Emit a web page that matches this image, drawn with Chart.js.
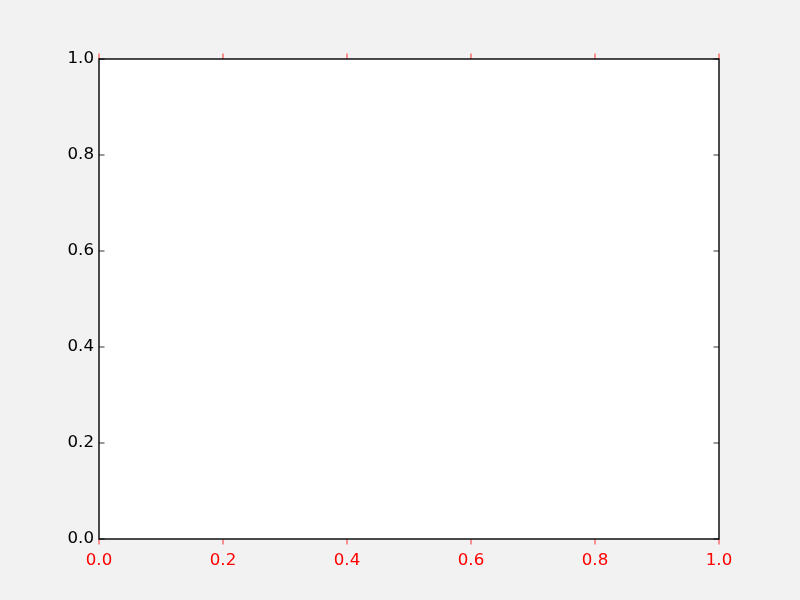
<!DOCTYPE html>
<html><head><meta charset="utf-8">
<script src="https://cdn.jsdelivr.net/npm/chart.js@4"></script>
<style>html,body{margin:0;padding:0;background:#f2f2f2;overflow:hidden}#wrap{width:800px;height:600px;position:relative}</style>
</head><body><div id="wrap"><canvas id="c" width="800" height="600"></canvas></div>
<script>
const xTicks = [0.0, 0.2, 0.4, 0.6, 0.8, 1.0];
const yTicks = [0.0, 0.2, 0.4, 0.6, 0.8, 1.0];
const xRange = [0, 1];
const yRange = [0, 1];
const points = []; // the reference axes are empty

const FONT = {family: 'DejaVu Sans', size: 16.67};

const framePlugin = {
  id: 'frame',
  beforeDraw(chart) {
    const {ctx, chartArea: a} = chart;
    ctx.save();
    ctx.fillStyle = '#f2f2f2';
    ctx.fillRect(0, 0, chart.width, chart.height);
    ctx.fillStyle = '#ffffff';
    ctx.fillRect(a.left, a.top, a.right - a.left, a.bottom - a.top);
    ctx.restore();
  },
  afterDraw(chart) {
    const {ctx, chartArea: a, scales} = chart;
    ctx.save();
    const tl = 5.5;
    // x ticks: red, outward, top and bottom
    ctx.strokeStyle = '#ff0000';
    ctx.lineWidth = 0.8;
    scales.x.ticks.forEach(t => {
      const px = scales.x.getPixelForValue(t.value);
      ctx.beginPath();
      ctx.moveTo(px, a.bottom); ctx.lineTo(px, a.bottom + tl);
      ctx.moveTo(px, a.top); ctx.lineTo(px, a.top - tl);
      ctx.stroke();
    });
    // y ticks: black, inward, left and right
    ctx.strokeStyle = '#000000';
    scales.y.ticks.forEach(t => {
      const py = scales.y.getPixelForValue(t.value);
      ctx.beginPath();
      ctx.moveTo(a.left, py); ctx.lineTo(a.left + tl, py);
      ctx.moveTo(a.right, py); ctx.lineTo(a.right - tl, py);
      ctx.stroke();
    });
    // frame
    ctx.lineWidth = 1.4;
    ctx.strokeStyle = '#000000';
    ctx.strokeRect(a.left, a.top, a.right - a.left, a.bottom - a.top);
    ctx.restore();
  }
};

new Chart(document.getElementById('c'), {
  type: 'scatter',
  data: {datasets: [{data: points, pointRadius: 0}]},
  options: {
    responsive: false,
    animation: false,
    devicePixelRatio: 1,
    layout: {padding: {top: 59, right: 81, left: 0, bottom: 0}},
    plugins: {legend: {display: false}, tooltip: {enabled: false}},
    scales: {
      x: {
        type: 'linear', position: 'bottom',
        min: xRange[0], max: xRange[1],
        afterBuildTicks: s => { s.ticks = xTicks.map(v => ({value: v})); },
        afterFit: s => { s.height = 61; },
        grid: {display: false, drawTicks: false},
        border: {display: false},
        ticks: {color: '#ff0000', font: FONT, padding: 12, maxRotation: 0, autoSkip: false,
                callback: v => Number(v).toFixed(1)}
      },
      y: {
        type: 'linear', position: 'left',
        min: yRange[0], max: yRange[1],
        afterBuildTicks: s => { s.ticks = yTicks.map(v => ({value: v})); },
        afterFit: s => { s.width = 99; },
        grid: {display: false, drawTicks: false},
        border: {display: false},
        ticks: {color: '#000000', font: FONT, padding: 5, autoSkip: false,
                callback: v => Number(v).toFixed(1)}
      }
    }
  },
  plugins: [framePlugin]
});
</script></body></html>
